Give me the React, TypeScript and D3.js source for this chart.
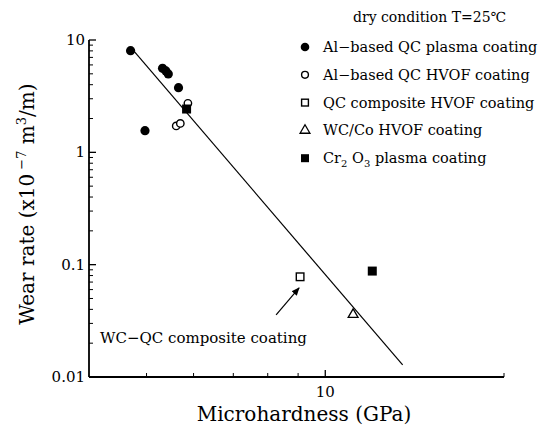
import React from "react";
import * as d3 from "d3";

const plasmaX = [4.70, 5.32, 5.39, 5.44, 5.66, 4.97];
const plasmaY = [8.03, 5.6, 5.3, 4.98, 3.76, 1.56];
const hvofX = [5.87, 5.61, 5.70];
const hvofY = [2.73, 1.72, 1.81];
const compX = [9.07];
const compY = [0.078];
const wcX = [11.14];
const wcY = [0.036];
const crX = [5.84, 12.0];
const crY = [2.43, 0.0877];
const fitX = [4.77, 13.5];
const fitY = [7.87, 0.0128];
const yTickLabels = ["0.01", "0.1", "1", "10"];
const yTickValues = [0.01, 0.1, 1, 10];
const xTickLabels = ["10"];
const xTickValues = [10];
const xMinor = [5, 6, 7, 8, 9, 20];
const legendLabels = [
  "Al\u2212based QC plasma coating",
  "Al\u2212based QC HVOF coating",
  "QC composite HVOF coating",
  "WC/Co HVOF coating",
  "Cr2O3 plasma coating",
];

const FONT = "'DejaVu Serif', 'Liberation Serif', serif";

export default function App() {
  const x = d3.scaleLog().domain([4, 20]).range([89, 504]);
  const y = d3.scaleLog().domain([0.01, 10]).range([377, 40]);

  const yMinor: number[] = [];
  [0.01, 0.1, 1].forEach((d) => {
    for (let k = 2; k <= 9; k++) yMinor.push(d * k);
  });

  const line = d3
    .line<number>()
    .x((_, i) => x(fitX[i]))
    .y((_, i) => y(fitY[i]));

  const tri = d3.symbol().type(d3.symbolTriangle).size(42)();

  const legendX = 305;
  const legendY0 = 47;
  const legendDy = 27.8;

  const ax1 = x(compX[0]) - 24;
  const ay1 = y(compY[0]) + 38;
  const ax2 = x(compX[0]) - 1;
  const ay2 = y(compY[0]) + 11;

  return (
    <svg
      width={552}
      height={435}
      style={{ position: "absolute", left: 0, top: 0, background: "#fff" }}
      fontFamily={FONT}
    >
      <defs>
        <marker id="ah" viewBox="0 0 10 10" refX="9" refY="5" markerWidth="7" markerHeight="7" orient="auto">
          <path d="M0,1 L10,5 L0,9 z" fill="#000" />
        </marker>
      </defs>
      <line x1={89} x2={89} y1={y(10)} y2={y(0.01)} stroke="#000" strokeWidth={1.8} />
      <line x1={89} x2={504} y1={377} y2={377} stroke="#000" strokeWidth={1.8} />
      {yTickValues.map((v, i) => (
        <g key={"yt" + i}>
          <line x1={89} x2={96} y1={y(v)} y2={y(v)} stroke="#000" strokeWidth={1.3} />
          <text x={85} y={y(v) + 5} textAnchor="end" fontSize={15}>
            {yTickLabels[i]}
          </text>
        </g>
      ))}
      {yMinor.map((v, i) => (
        <line key={"ym" + i} x1={89} x2={93} y1={y(v)} y2={y(v)} stroke="#000" strokeWidth={1} />
      ))}
      {xTickValues.map((v, i) => (
        <g key={"xt" + i}>
          <line x1={x(v)} x2={x(v)} y1={377} y2={370} stroke="#000" strokeWidth={1.3} />
          <text x={x(v)} y={397} textAnchor="middle" fontSize={15}>
            {xTickLabels[i]}
          </text>
        </g>
      ))}
      {xMinor.map((v, i) => (
        <line key={"xm" + i} x1={x(v)} x2={x(v)} y1={377} y2={373} stroke="#000" strokeWidth={1} />
      ))}
      <text x={304} y={421} textAnchor="middle" fontSize={20}>
        Microhardness (GPa)
      </text>
      <text transform="translate(34,204) rotate(-90)" textAnchor="middle" fontSize={20}>
        Wear rate (x10
        <tspan dy={-8} fontSize={13}> −7</tspan>
        <tspan dy={8}> m</tspan>
        <tspan dy={-8} fontSize={13}>3</tspan>
        <tspan dy={8}>/m)</tspan>
      </text>
      <path d={line(fitX) || ""} fill="none" stroke="#000" strokeWidth={1.2} />
      {plasmaX.map((v, i) => (
        <circle key={"p" + i} cx={x(v)} cy={y(plasmaY[i])} r={4.6} fill="#000" />
      ))}
      {hvofX.map((v, i) => (
        <circle key={"h" + i} cx={x(v)} cy={y(hvofY[i])} r={3.7} fill="#fff" stroke="#000" strokeWidth={1.4} />
      ))}
      {compX.map((v, i) => (
        <rect key={"c" + i} x={x(v) - 3.8} y={y(compY[i]) - 3.8} width={7.6} height={7.6} fill="#fff" stroke="#000" strokeWidth={1.4} />
      ))}
      {wcX.map((v, i) => (
        <path key={"w" + i} d={tri || ""} transform={`translate(${x(v)},${y(wcY[i])})`} fill="#fff" stroke="#000" strokeWidth={1.3} />
      ))}
      {crX.map((v, i) => (
        <rect key={"r" + i} x={x(v) - 4.5} y={y(crY[i]) - 4.5} width={9} height={9} fill="#000" />
      ))}
      <line x1={ax1} y1={ay1} x2={ax2} y2={ay2} stroke="#000" strokeWidth={1.2} markerEnd="url(#ah)" />
      <text x={100} y={343} fontSize={15}>
        WC−QC composite coating
      </text>
      <text x={353} y={22} fontSize={14}>
        dry condition T=25℃
      </text>
      {legendLabels.map((lab, i) => {
        const cy = legendY0 + i * legendDy;
        let m: React.ReactNode = null;
        if (i === 0) m = <circle cx={legendX} cy={cy} r={4.3} fill="#000" />;
        if (i === 1) m = <circle cx={legendX} cy={cy} r={3.4} fill="#fff" stroke="#000" strokeWidth={1.4} />;
        if (i === 2) m = <rect x={legendX - 3.4} y={cy - 3.4} width={6.8} height={6.8} fill="#fff" stroke="#000" strokeWidth={1.4} />;
        if (i === 3) m = <path d={tri || ""} transform={`translate(${legendX},${cy})`} fill="#fff" stroke="#000" strokeWidth={1.3} />;
        if (i === 4) m = <rect x={legendX - 4} y={cy - 4} width={8} height={8} fill="#000" />;
        return (
          <g key={"l" + i}>
            {m}
            {i === 4 ? (
              <text x={323} y={cy + 5} fontSize={14.5}>
                Cr<tspan dy={4} fontSize={10}>2</tspan>
                <tspan dy={-4}> O</tspan>
                <tspan dy={4} fontSize={10}>3</tspan>
                <tspan dy={-4}> plasma coating</tspan>
              </text>
            ) : (
              <text x={323} y={cy + 5} fontSize={14.5}>
                {lab}
              </text>
            )}
          </g>
        );
      })}
    </svg>
  );
}
